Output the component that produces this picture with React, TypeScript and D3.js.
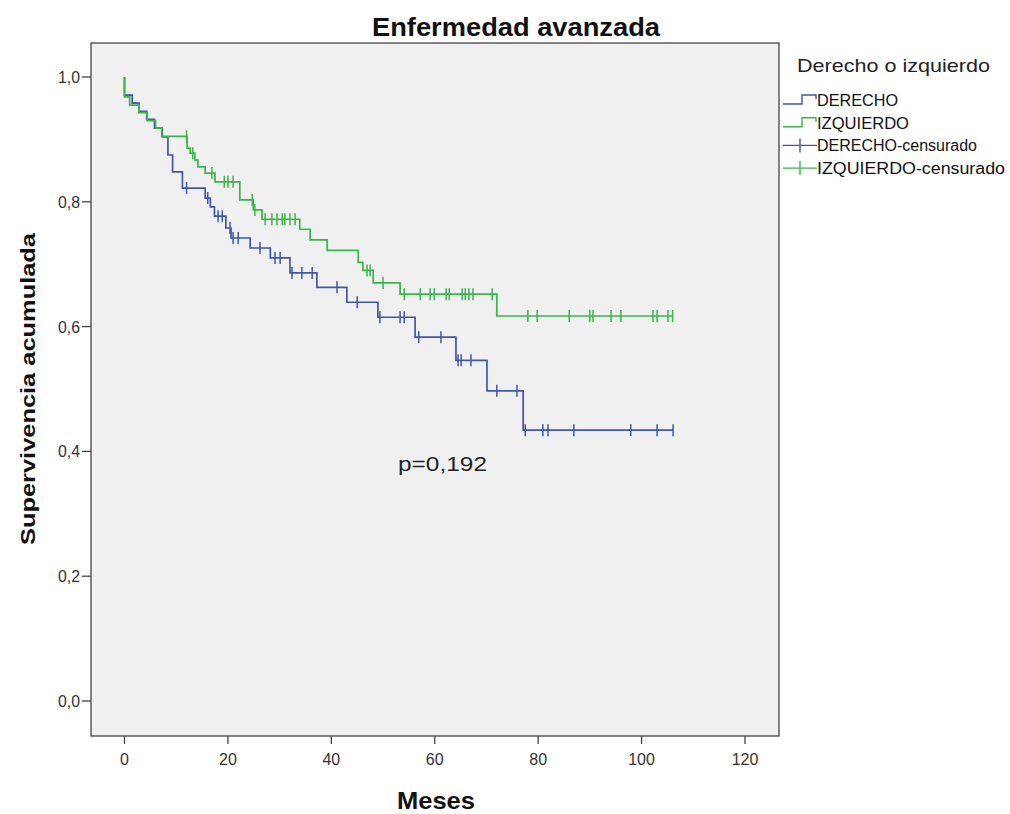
import React from "react";
import * as d3 from "d3";

// ---- Data ----
const xTicks = [0, 20, 40, 60, 80, 100, 120];
const yTicks = [0, 0.2, 0.4, 0.6, 0.8, 1.0];

// DERECHO: [time of event, survival after the drop]
const derechoSteps: [number, number][] = [
  [0, 0.971], [1.5, 0.958], [2.8, 0.945], [4.3, 0.932], [5.8, 0.918], [7.3, 0.904],
  [8.4, 0.875], [9.3, 0.848], [11.2, 0.822], [15.6, 0.806], [16.6, 0.792], [17.4, 0.777],
  [19.6, 0.758], [20.6, 0.742], [24.3, 0.726], [28.2, 0.71], [32.0, 0.686], [37.2, 0.663],
  [43.0, 0.639], [49.0, 0.615], [56.2, 0.583], [64.1, 0.546], [70.1, 0.497], [77.1, 0.434],
];
const derechoCensored = [
  12.0, 16.1, 18.1, 18.9, 20.4, 21.0, 22.0, 26.2, 29.1, 30.1, 32.4, 34.3, 36.3, 41.1, 45.0,
  49.4, 53.3, 54.1, 56.9, 61.2, 64.5, 65.1, 67.0, 72.0, 75.9, 77.5, 80.9, 81.9, 86.9, 97.9,
  103.0, 106.1,
];
const derechoEnd = 106.1;

// IZQUIERDO
const izquierdoSteps: [number, number][] = [
  [0, 0.968], [1.0, 0.955], [2.8, 0.943], [4.4, 0.93], [6.0, 0.918], [7.2, 0.905],
  [12.1, 0.886], [12.7, 0.878], [13.6, 0.867], [14.2, 0.856], [15.6, 0.846], [17.5, 0.832],
  [22.3, 0.803], [24.9, 0.787], [26.6, 0.772], [33.9, 0.756], [35.9, 0.739], [39.2, 0.722],
  [45.2, 0.703], [46.1, 0.69], [48.1, 0.67], [53.3, 0.652], [72.0, 0.617],
];
const izquierdoCensored = [
  12.0, 13.2, 16.9, 19.3, 20.0, 21.0, 24.7, 25.2, 27.2, 28.5, 29.5, 30.5, 31.0, 32.0, 33.0,
  46.9, 47.5, 50.0, 54.1, 57.2, 59.1, 59.9, 62.2, 62.8, 65.3, 65.9, 66.6, 67.4, 71.1,
  78.0, 79.8, 86.0, 90.0, 90.6, 94.1, 96.0, 102.2, 103.0, 105.1, 106.0,
];
const izquierdoEnd = 106.0;

const legendLabels = ["DERECHO", "IZQUIERDO", "DERECHO-censurado", "IZQUIERDO-censurado"];
const legendWidths = [81, 92, 160, 188];
const BLUE = "#4056AC";
const GREEN = "#3AB54A";

const FONT = "'Liberation Sans', Arial, sans-serif";

function survAt(steps: [number, number][], t: number) {
  let s = 1;
  for (const [tt, v] of steps) if (tt <= t) s = v;
  return s;
}

export default function App() {
  const W = 1010, H = 814;
  const box = { left: 91, right: 779, top: 43, bottom: 736 };
  const x = d3.scaleLinear().domain([0, 120]).range([124.5, 745]);
  const y = d3.scaleLinear().domain([0, 1]).range([701, 77]);

  const line = d3.line<[number, number]>().x(d => x(d[0])).y(d => y(d[1])).curve(d3.curveStepAfter);

  const curvePts = (steps: [number, number][], end: number): [number, number][] => {
    const pts: [number, number][] = [[0, 1], ...steps];
    pts.push([end, steps[steps.length - 1][1]]);
    return pts;
  };

  const series = [
    { steps: derechoSteps, cens: derechoCensored, end: derechoEnd, color: BLUE },
    { steps: izquierdoSteps, cens: izquierdoCensored, end: izquierdoEnd, color: GREEN },
  ];

  const fmt = (v: number) => v.toFixed(1).replace(".", ",");

  return (
    <svg width={W} height={H} style={{ position: "absolute", left: 0, top: 0, background: "#fff" }} fontFamily={FONT}>
      <rect x={0} y={0} width={W} height={H} fill="#fff" />
      <text x={372} y={36} fontSize={25} fontWeight="bold" fill="#111" textLength={288} lengthAdjust="spacingAndGlyphs">Enfermedad avanzada</text>
      <rect x={box.left} y={box.top} width={box.right - box.left} height={box.bottom - box.top} fill="#F0F0F0" stroke="#444" strokeWidth={1.3} />

      {/* y axis */}
      {yTicks.map(v => (
        <g key={"y" + v}>
          <line x1={box.left - 9} x2={box.left} y1={y(v)} y2={y(v)} stroke="#444" strokeWidth={1.3} />
          <text x={80} y={y(v) + 6} textAnchor="end" fontSize={16} fill="#333" textLength={22} lengthAdjust="spacingAndGlyphs">{fmt(v)}</text>
        </g>
      ))}
      {/* x axis */}
      {xTicks.map(v => (
        <g key={"x" + v}>
          <line x1={x(v)} x2={x(v)} y1={box.bottom} y2={box.bottom + 8} stroke="#444" strokeWidth={1.3} />
          <text x={x(v)} y={box.bottom + 29} textAnchor="middle" fontSize={16} fill="#333">{v}</text>
        </g>
      ))}
      <text x={397} y={809} fontSize={23} fontWeight="bold" fill="#111" textLength={78} lengthAdjust="spacingAndGlyphs">Meses</text>
      <text transform={`translate(35,545) rotate(-90)`} fontSize={21} fontWeight="bold" fill="#111" textLength={312} lengthAdjust="spacingAndGlyphs">Supervivencia acumulada</text>

      {/* curves */}
      {series.map((s, i) => (
        <g key={"s" + i}>
          <path d={line(curvePts(s.steps, s.end)) || ""} fill="none" stroke={s.color} strokeWidth={1.7} />
          {s.cens.map((t, j) => (
            <line key={j} x1={x(t)} x2={x(t)} y1={y(survAt(s.steps, t)) - 6} y2={y(survAt(s.steps, t)) + 6} stroke={s.color} strokeWidth={1.5} />
          ))}
        </g>
      ))}

      <text x={398} y={471} fontSize={21} fill="#222" textLength={89} lengthAdjust="spacingAndGlyphs">p=0,192</text>

      {/* legend */}
      <text x={797} y={72} fontSize={19} fill="#222" textLength={193} lengthAdjust="spacingAndGlyphs">Derecho o izquierdo</text>
      {legendLabels.map((lab, i) => {
        const cy = 100 + i * 22.7;
        const color = i % 2 === 0 ? BLUE : GREEN;
        return (
          <g key={lab}>
            {i < 2 ? (
              <path d={`M783,${cy + 4}H802V${cy - 5}H816V${cy - 1}`} fill="none" stroke={color} strokeWidth={1.4} />
            ) : (
              <g>
                <line x1={783} x2={817} y1={cy} y2={cy} stroke={color} strokeWidth={1.4} />
                <line x1={800} x2={800} y1={cy - 7} y2={cy + 7} stroke={color} strokeWidth={1.4} />
              </g>
            )}
            <text x={817} y={cy + 6} fontSize={16} fill="#111" textLength={legendWidths[i]} lengthAdjust="spacingAndGlyphs">{lab}</text>
          </g>
        );
      })}
    </svg>
  );
}
